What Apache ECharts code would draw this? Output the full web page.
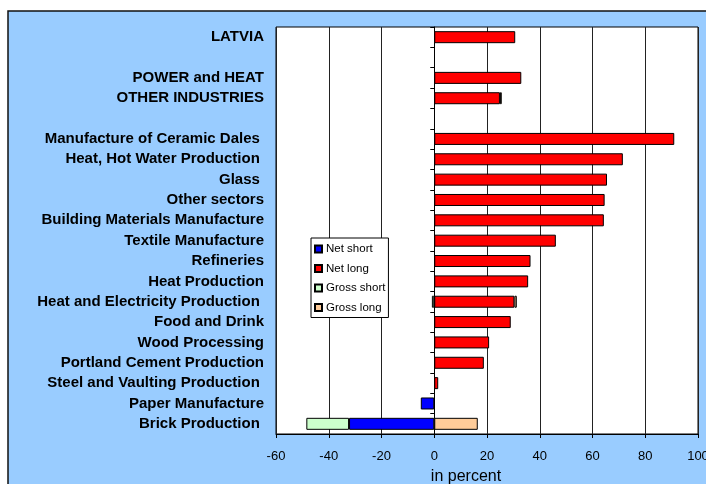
<!DOCTYPE html>
<html>
<head>
<meta charset="utf-8">
<script src="https://cdn.jsdelivr.net/npm/echarts@6/dist/echarts.min.js"></script>
<style>
  html, body { margin: 0; padding: 0; background: #fff; }
  #chart { width: 706px; height: 484px; }
</style>
</head>
<body>
<div id="chart"></div>
<script>
var categories = ['LATVIA', ' ', 'POWER and HEAT', 'OTHER INDUSTRIES', '  ',
    'Manufacture of Ceramic Dales ', 'Heat, Hot Water Production ', 'Glass ', 'Other sectors',
    'Building Materials Manufacture', 'Textile Manufacture', 'Refineries', 'Heat Production',
    'Heat and Electricity Production ', 'Food and Drink', 'Wood Processing',
    'Portland Cement Production', 'Steel and Vaulting Production ', 'Paper Manufacture', 'Brick Production '];

var netShort   = ['-', '-', '-', '-', '-', '-', '-', '-', '-', '-', '-', '-', '-', '-', '-', '-', '-', '-', -5.1, -32.3];
var netLong    = [30.7, '-', 33.0, 24.9, '-', 91.0, 71.5, 65.5, 64.6, 64.3, 46.1, 36.5, 35.6, 30.4, 29.0, 20.8, 18.8, 1.5, '-', '-'];
var grossShort = ['-', '-', '-', '-', '-', '-', '-', '-', '-', '-', '-', '-', '-', -0.9, '-', '-', '-', '-', '-', -16.2];
var grossLong  = ['-', '-', '-', 0.7, '-', '-', '-', '-', '-', '-', '-', '-', '-', 0.9, '-', '-', '-', '-', '-', 16.5];

var xTicks = [-60, -40, -20, 0, 20, 40, 60, 80, 100];

var myChart = echarts.init(document.getElementById('chart'));

function barSeries(name, data, color) {
    return {
        name: name,
        type: 'bar',
        stack: 'total',
        data: data,
        barWidth: 12,
        yAxisIndex: 0,
        itemStyle: {
            color: color,
            borderColor: '#000',
            borderWidth: 1
        }
    };
}

var option = {
    animation: false,
    graphic: [{
        type: 'rect',
        z: -10,
        shape: { x: 8, y: 11, width: 710, height: 480 },
        style: { fill: '#99ccff', stroke: '#111', lineWidth: 1.5 }
    }],
    legend: {
        orient: 'vertical',
        left: 311,
        top: 238,
        backgroundColor: '#fff',
        borderColor: '#000',
        borderWidth: 1,
        padding: [5, 3, 4, 3],
        itemWidth: 7,
        itemHeight: 7,
        itemGap: 7.5,
        icon: 'rect',
        textStyle: {
            fontFamily: 'Liberation Sans',
            fontSize: 11.5,
            lineHeight: 12,
            color: '#000',
            padding: [0, 0, 0, -1]
        },
        data: ['Net short', 'Net long', 'Gross short', 'Gross long']
    },
    grid: {
        left: 276,
        right: 8,
        top: 27,
        bottom: 50,
        outerBoundsMode: 'none',
        show: true,
        backgroundColor: '#fff',
        borderColor: '#000',
        borderWidth: 1
    },
    xAxis: {
        type: 'value',
        min: -60,
        max: 100,
        interval: 20,
        name: 'in percent',
        nameLocation: 'middle',
        nameGap: 35,
        nameTextStyle: { fontFamily: 'Liberation Sans', fontSize: 16, color: '#000', padding: [0, 42, 0, 0] },
        axisLine: { show: true, onZero: false, lineStyle: { color: '#000', width: 1 } },
        axisTick: { show: true, length: 4, lineStyle: { color: '#000' } },
        axisLabel: {
            fontFamily: 'Liberation Sans',
            fontSize: 13,
            color: '#000',
            margin: 16,
            formatter: function (v) { return xTicks.indexOf(v) >= 0 ? String(v) : ''; }
        },
        splitLine: { show: true, lineStyle: { color: '#222', width: 1 } }
    },
    yAxis: [{
        type: 'category',
        inverse: true,
        data: categories,
        position: 'left',
        axisLine: { show: false, onZero: false },
        axisTick: { show: false },
        axisLabel: {
            fontFamily: 'Liberation Sans',
            fontWeight: 'bold',
            fontSize: 15,
            color: '#000',
            margin: 12,
            padding: [3, 0, 0, 0]
        }
    }, {
        type: 'category',
        inverse: true,
        data: categories,
        position: 'left',
        axisLine: { show: true, onZero: true, lineStyle: { color: '#000', width: 1 } },
        axisTick: { show: true, length: 4, lineStyle: { color: '#000' } },
        axisLabel: { show: false }
    }],
    series: [
        barSeries('Net short', netShort, '#0000ff'),
        barSeries('Net long', netLong, '#ff0000'),
        barSeries('Gross short', grossShort, '#ccffcc'),
        barSeries('Gross long', grossLong, '#ffcc99')
    ]
};

myChart.setOption(option);
</script>
</body>
</html>
